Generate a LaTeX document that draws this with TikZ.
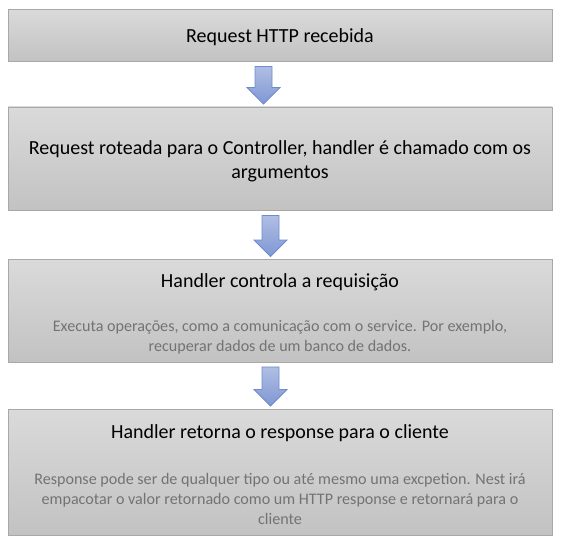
\documentclass[tikz,border=0pt]{standalone}
\usepackage{fontspec}
\setmainfont{Carlito}
\usetikzlibrary{calc}

\definecolor{boxtop}{HTML}{DADADA}
\definecolor{boxbot}{HTML}{C2C2C2}
\definecolor{boxline}{HTML}{A8A8A8}
\definecolor{arrtop}{HTML}{B0BEE4}
\definecolor{arrbot}{HTML}{7F97D3}
\definecolor{arrline}{HTML}{6E8CCF}
\definecolor{subgray}{HTML}{737373}

\tikzset{
	stepbox/.style={draw=boxline, line width=0.9pt, top color=boxtop, bottom color=boxbot, minimum width=544pt, inner sep=0pt},
	steptitle/.style={font=\fontsize{20}{24}\selectfont, text=black, align=center, inner sep=0pt},
	stepnote/.style={font=\fontsize{16.1}{19.6}\selectfont, text=subgray, align=center, inner sep=0pt},
	blockarrow/.style={draw=arrline, line width=0.8pt, top color=arrtop, bottom color=arrbot, line join=miter}
}

% block arrow below node #1, above node #2, centred at x=#3
\def\blockarrow(#1)(#2)(#3){\draw[blockarrow] let \p1=(#1.south), \p2=(#2.north) in
	(#3-8.5, \y1-4.5pt) -- (#3+8.5, \y1-4.5pt) -- (#3+8.5, \y2+19pt) -- (#3+16.5, \y2+19pt)
	-- (#3, \y2+2.5pt) -- (#3-16.5, \y2+19pt) -- (#3-8.5, \y2+19pt) -- cycle;}

\begin{document}
\begin{tikzpicture}[x=1pt, y=-1pt]
		%%%%% START %%%%%
		\useasboundingbox (0, 0) rectangle (562, 545);
		
		\node[stepbox, minimum height=52pt] (recv) at (280, 35.5) {};
		\node[steptitle] (recvtitle) at (280, 37) {Request HTTP recebida};
		
		\node[stepbox, minimum height=103.5pt] (route) at (280, 158.75) {};
		\node[steptitle] (routetitle) at (280, 161.5) {Request roteada para o Controller, handler é chamado com os\\argumentos};
		
		\node[stepbox, minimum height=102.5pt] (ctrl) at (280, 310.75) {};
		\node[steptitle] (ctrltitle) at (280, 282) {Handler controla a requisição};
		\node[stepnote] (ctrlnote) at (280, 337.5) {Executa operações, como a comunicação com o service. Por exemplo,\\recuperar dados de um banco de dados.};
		
		\node[stepbox, minimum height=126.5pt] (resp) at (280, 472.25) {};
		\node[steptitle] (resptitle) at (280, 433.5) {Handler retorna o response para o cliente};
		\node[stepnote] (respnote) at (280, 499) {Response pode ser de qualquer tipo ou até mesmo uma excpetion. Nest irá\\empacotar o valor retornado como um HTTP response e retornará para o\\cliente};
		
		\blockarrow(recv)(route)(263.5)
		\blockarrow(route)(ctrl)(270.5)
		\blockarrow(ctrl)(resp)(270.5)
		
		%%%%% END %%%%%
	\end{tikzpicture}
\end{document}
